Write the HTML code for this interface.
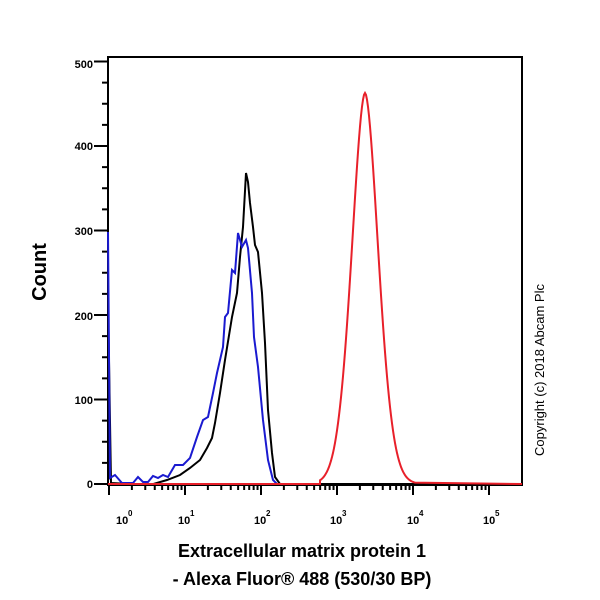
<!DOCTYPE html><html><head><style>body{margin:0;background:#fff}svg{display:block}text{font-family:"Liberation Sans",sans-serif}</style></head><body>
<svg id="s" width="600" height="600" viewBox="0 0 600 600" xmlns="http://www.w3.org/2000/svg">
<rect x="108" y="57" width="414" height="428" fill="none" stroke="#000" stroke-width="2"/>
<g id="ticks" stroke="#000" stroke-width="2"></g>
<g font-size="11" font-weight="bold" text-anchor="end">
<text x="93" y="68">500</text><text x="93" y="150">400</text><text x="93" y="235">300</text><text x="93" y="320">200</text><text x="93" y="404">100</text><text x="93" y="488">0</text>
</g>
<g font-size="11" font-weight="bold">
<text x="116" y="524">10</text><text x="128" y="516" font-size="8">0</text>
<text x="178" y="524">10</text><text x="190" y="516" font-size="8">1</text>
<text x="254" y="524">10</text><text x="266" y="516" font-size="8">2</text>
<text x="330" y="524">10</text><text x="342" y="516" font-size="8">3</text>
<text x="407" y="524">10</text><text x="419" y="516" font-size="8">4</text>
<text x="483" y="524">10</text><text x="495" y="516" font-size="8">5</text>
</g>
<text transform="translate(46,272) rotate(-90)" font-size="20" font-weight="bold" text-anchor="middle">Count</text>
<text transform="translate(544,370) rotate(-90)" font-size="13" text-anchor="middle">Copyright (c) 2018 Abcam Plc</text>
<text x="302" y="557" font-size="18" font-weight="bold" text-anchor="middle">Extracellular matrix protein 1</text>
<text x="302" y="585" font-size="18" font-weight="bold" text-anchor="middle">- Alexa Fluor® 488 (530/30 BP)</text>
<path fill="none" stroke="#000" stroke-width="2" d="M108,300 L111,483 150,485 167,480 180,475 190,468 200,460 207,448 212,438 215,423 220,393 225,360 232,317 237,293 240,257 243,227 246,173 248,182 250,203 253,227 255,245 258,252 262,293 265,343 268,410 272,453 275,477 280,484 522,484"/>
<path fill="none" stroke="#1a1ad0" stroke-width="2" d="M108,232 L110,478 115,475 122,483 133,483 138,477 143,482 148,482 153,476 158,478 163,475 168,477 175,465 183,465 190,458 197,437 203,420 208,417 213,393 217,373 220,360 223,347 225,317 228,313 232,270 235,273 238,233 242,247 246,240 248,248 252,293 254,337 258,367 263,420 268,460 273,480 277,484"/>
<path id="red" fill="none" stroke="#e8202a" stroke-width="2"/>
</svg>
<script>
var t=document.getElementById('ticks'),h='';
for(var v=0;v<=500;v+=25){var y=484-v*0.845,l=v%100==0?14:6;h+='<line x1="'+(108-l)+'" y1="'+y+'" x2="108" y2="'+y+'"/>';}
for(var d=0;d<5;d++)for(var k=1;k<10;k++){var x=109+76*(d+Math.log10(k));if(x>522)continue;var l=k==1?10:5;h+='<line x1="'+x+'" y1="485" x2="'+x+'" y2="'+(485+l)+'"/>';}
var x=109+76*5;h+='<line x1="'+x+'" y1="485" x2="'+x+'" y2="495"/>';
t.innerHTML=h;
var p='M108,484 L320,484';
for(var x=320;x<=415;x+=1){var z=(x-365)/13;var y=484-391*Math.exp(-Math.pow(Math.abs(z),1.8)/2);p+=' '+x+','+y.toFixed(1);}
p+=' 522,484';document.getElementById('red').setAttribute('d',p);
</script>
</body></html>
